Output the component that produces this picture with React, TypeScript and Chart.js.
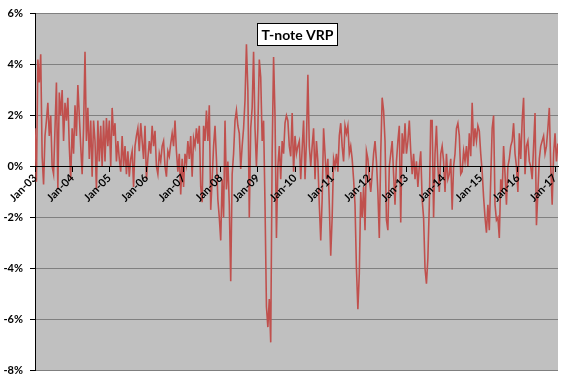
import React, { useEffect, useRef } from "react";
import { Chart, registerables } from "chart.js";

Chart.register(...registerables);

const TITLE = "T-note VRP";
const yearTicks = [2003, 2004, 2005, 2006, 2007, 2008, 2009, 2010, 2011, 2012, 2013, 2014, 2015, 2016, 2017];
const yTicks = [-8, -6, -4, -2, 0, 2, 4, 6];
const pointsPerYear = 26;
const xMin = 2003;
const xMax = 2017.08;

const v2003 = [1.5, -0.6, 4.2, 3.3, 4.4, 0.4, -0.7, 1.2, 1.8, 2.5, 1.2, 2.0, 0.0, -0.3, 1.5, 3.3, -0.9, 2.9, 2.0, 3.0, 1.0, 2.5, 1.8, 2.7, 0.8, -0.5];
const v2004 = [1.5, 0.5, 2.4, 1.2, 3.2, 2.0, 0.8, -0.3, 1.5, 4.5, 1.0, 2.3, 0.3, 1.8, -0.4, 1.8, 1.0, -0.9, 1.8, 0.2, 1.6, 0.0, 1.8, 0.2, 1.9, 0.8];
const v2005 = [1.8, 0.0, 2.3, 1.2, 1.7, 0.2, 1.0, 0.3, -0.2, 1.2, 0.0, 0.8, -0.3, 0.6, -0.4, 0.3, 0.6, -0.8, 0.8, 1.2, 1.5, 0.6, 1.7, 1.0, 0.3, 1.6];
const v2006 = [-0.5, 0.3, 1.0, 0.5, 1.6, 0.8, 1.4, 0.0, -0.3, 0.5, 0.2, 0.8, 1.0, 0.0, -0.4, 0.6, 0.4, 0.9, 1.3, 0.8, 1.8, 0.6, -0.2, 0.5, -1.1, 0.3];
const v2007 = [-0.8, 0.5, 0.1, 1.0, 0.3, 1.2, -0.4, 1.1, 0.8, 1.5, 0.9, 1.6, -0.8, -1.4, 1.6, 1.0, 2.2, 1.0, 2.4, -1.7, -0.5, 0.8, 1.6, 0.3, -1.3, -2.0];
const v2008 = [-2.9, -0.5, -2.0, 1.8, -0.9, 0.2, -1.5, -4.5, -0.3, 0.5, 1.8, 2.2, 1.6, 1.3, -0.1, 0.8, 1.5, 2.6, 4.8, 3.0, -2.0, 1.5, 2.3, 4.5, 1.5, 0.0];
const v2009 = [1.5, 4.2, 3.5, 1.0, 1.8, -1.5, -5.5, -6.3, -5.2, -6.9, 0.5, 4.3, 2.0, -2.8, 0.0, 0.8, -0.5, 1.0, 0.5, 1.7, 2.0, 1.8, 0.8, 0.4, 2.1, -0.2];
const v2010 = [1.2, 0.5, 0.8, 1.0, -0.5, 0.7, 1.8, -0.5, 1.0, 3.6, 0.8, 0.0, 0.8, 1.5, -0.5, 1.0, 0.2, -1.5, -2.9, -1.3, 1.5, 0.5, -0.5, 0.3, -1.5, -3.5];
const v2011 = [-2.0, 0.3, 0.0, 0.5, -0.2, 1.2, 1.7, 0.8, 0.2, 1.6, 1.3, 1.6, 0.5, 0.8, 0.3, -0.5, -1.5, -4.0, -5.6, -4.2, -1.0, -2.0, -0.8, -2.5, 0.6, 0.3];
const v2012 = [-0.5, -1.0, -0.3, 0.5, 1.0, 0.2, -1.0, -2.8, 0.5, 2.7, 2.2, 1.0, -2.1, -2.5, 0.0, 0.5, 1.0, -0.3, -1.5, 0.2, 1.0, 1.6, -2.2, 1.3, 0.5, 1.7];
const v2013 = [0.5, 1.0, 1.8, 0.6, -0.3, 0.5, -0.5, 0.2, -0.8, 0.0, 0.6, -1.3, -2.0, -4.0, -4.6, -3.6, -1.5, 1.8, 1.8, -2.0, 0.5, 1.6, 0.0, -1.0, 0.5, 0.8];
const v2014 = [0.2, -1.0, 0.5, -0.5, -0.3, 0.3, -1.7, 0.0, 0.5, 1.5, 1.7, 1.2, -0.3, -0.2, 0.6, 0.2, 0.8, 0.0, 1.3, 0.4, 2.5, 0.8, 1.5, 1.0, 1.6, 1.4];
const v2015 = [0.5, -0.2, -1.2, -2.0, -2.6, -1.5, -2.5, -0.5, 1.5, 2.0, -1.5, -2.1, -2.0, -2.8, -0.5, -1.0, 0.8, -0.3, -1.5, 0.0, 0.3, 0.8, 1.0, 1.7, 0.5, 0.0];
const v2016 = [-1.0, 1.3, 0.3, 1.8, 2.7, -0.3, 0.8, 1.0, 0.2, 0.0, -0.5, 0.8, 2.1, -2.3, -1.0, 0.3, 0.8, 1.0, 1.2, 0.5, 0.8, 1.5, 2.3, 0.0, -1.5, 0.5];
const v2017 = [1.3, 0.2, 0.9];

const seriesByYear: [number, number[]][] = [
  [2003, v2003], [2004, v2004], [2005, v2005], [2006, v2006], [2007, v2007],
  [2008, v2008], [2009, v2009], [2010, v2010], [2011, v2011], [2012, v2012],
  [2013, v2013], [2014, v2014], [2015, v2015], [2016, v2016], [2017, v2017],
];

const FONT = { family: "Lato", size: 11, weight: "bold" as const };

const plotBg = {
  id: "plotBg",
  beforeDraw(chart: any) {
    const { ctx, chartArea: a } = chart;
    ctx.save();
    ctx.fillStyle = "#C0C0C0";
    ctx.fillRect(a.left, a.top, a.right - a.left, a.bottom - a.top);
    ctx.restore();
  },
};

const titleBox = {
  id: "titleBox",
  afterDraw(chart: any) {
    const { ctx, chartArea: a } = chart;
    ctx.save();
    ctx.font = "bold 14px Lato";
    const w = ctx.measureText(TITLE).width;
    const bw = Math.round(w + 8);
    const bh = 22;
    const cx = (a.left + a.right) / 2;
    const x0 = Math.round(cx - bw / 2) + 0.5;
    const y0 = Math.round(a.top + 9) + 0.5;
    ctx.fillStyle = "#FFFFFF";
    ctx.fillRect(x0, y0, bw, bh);
    ctx.strokeStyle = "#000000";
    ctx.lineWidth = 1;
    ctx.strokeRect(x0, y0, bw, bh);
    ctx.fillStyle = "#000000";
    ctx.textAlign = "center";
    ctx.textBaseline = "middle";
    ctx.fillText(TITLE, x0 + bw / 2, y0 + bh / 2 + 1);
    ctx.restore();
  },
};

export default function App() {
  const canvasRef = useRef<HTMLCanvasElement | null>(null);

  useEffect(() => {
    document.body.style.margin = "0";
    const points: { x: number; y: number }[] = [];
    seriesByYear.forEach(([yr, vals]) => {
      vals.forEach((v, i) => points.push({ x: yr + i / pointsPerYear, y: v }));
    });
    const chart = new Chart(canvasRef.current as HTMLCanvasElement, {
      type: "line",
      data: {
        datasets: [
          {
            data: points,
            borderColor: "#C0504D",
            borderWidth: 1.6,
            pointRadius: 0,
            tension: 0,
            fill: false,
          },
        ],
      },
      plugins: [plotBg, titleBox],
      options: {
        animation: false,
        responsive: false,
        layout: { padding: { left: 2, top: 8, right: 18, bottom: 9 } },
        plugins: {
          legend: { display: false },
          tooltip: { enabled: false },
        },
        scales: {
          x: {
            type: "linear",
            min: xMin,
            max: xMax,
            position: { y: 0 } as any,
            afterFit: (s: any) => {
              s.height = 0;
            },
            afterBuildTicks: (s: any) => {
              s.ticks = yearTicks.map((v) => ({ value: v }));
            },
            grid: {
              drawOnChartArea: false,
              drawTicks: true,
              tickLength: 5,
              tickColor: "#000000",
              z: 1,
            },
            border: { color: "#000000", width: 1, z: 1 },
            ticks: {
              minRotation: 45,
              maxRotation: 45,
              autoSkip: false,
              padding: 0,
              color: "#000000",
              font: FONT,
              z: 1,
              callback: (v: any) => "Jan-" + String(Number(v) % 100).padStart(2, "0"),
            },
          },
          y: {
            type: "linear",
            min: -8,
            max: 6,
            afterBuildTicks: (s: any) => {
              s.ticks = yTicks.map((v) => ({ value: v }));
            },
            afterFit: (s: any) => {
              s.width = 33;
            },
            grid: {
              color: (c: any) => (c.tick && c.tick.value === 0 ? "#000000" : "#808080"),
              tickColor: "#000000",
              tickLength: 5,
            },
            border: { color: "#000000", width: 1 },
            ticks: {
              color: "#000000",
              font: FONT,
              padding: 7,
              callback: (v: any) => v + "%",
            },
          },
        },
      },
    });
    return () => chart.destroy();
  }, []);

  return (
    <div style={{ position: "fixed", left: 0, top: 0, width: 576, height: 384, background: "#FFFFFF" }}>
      <canvas ref={canvasRef} width={576} height={384} style={{ width: 576, height: 384, display: "block" }} />
    </div>
  );
}
